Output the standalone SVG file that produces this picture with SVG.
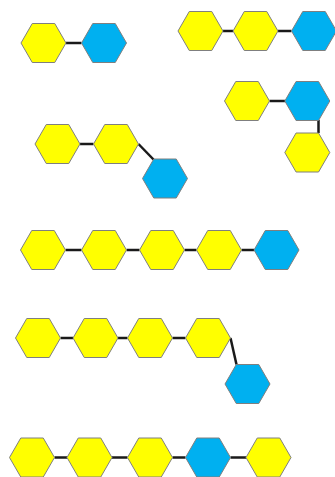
<svg xmlns="http://www.w3.org/2000/svg" xmlns:xlink="http://www.w3.org/1999/xlink" width="335" height="477" viewBox="0 0 335 477">
<style>
.y{fill:#FFFF00}
.b{fill:#00B0F0}
.hx{stroke:#7f7f7f;stroke-width:1}
.c line{stroke:#1a1a1a;stroke-width:2.5}
</style>
<defs>
<polygon id="hex" class="hx" points="-22.5,0 -11.25,-19.5 11.25,-19.5 22.5,0 11.25,19.5 -11.25,19.5"/>
</defs>
<rect width="335" height="477" fill="#fff"/>
<g id="connectors" class="c">
<line x1="66" y1="43" x2="81.5" y2="43"/>
<line x1="223" y1="31" x2="233" y2="31"/>
<line x1="278" y1="31" x2="291.5" y2="31"/>
<line x1="269.5" y1="101" x2="285" y2="101"/>
<line x1="318.5" y1="120" x2="318.5" y2="133"/>
<line x1="80" y1="144" x2="93.5" y2="144"/>
<line x1="138.5" y1="144" x2="153.5" y2="159.5"/>
<line x1="65.5" y1="250" x2="81.5" y2="250"/>
<line x1="126.5" y1="250" x2="139.5" y2="250"/>
<line x1="184.5" y1="250" x2="196.5" y2="250"/>
<line x1="241.5" y1="250" x2="254" y2="250"/>
<line x1="60.5" y1="338" x2="73" y2="338"/>
<line x1="118" y1="338" x2="127.5" y2="338"/>
<line x1="172.5" y1="338" x2="185.5" y2="338"/>
<line x1="230.5" y1="338" x2="236.5" y2="364.5"/>
<line x1="54.5" y1="457.5" x2="67" y2="457.5"/>
<line x1="112" y1="457.5" x2="127.5" y2="457.5"/>
<line x1="172.5" y1="457.5" x2="185.5" y2="457.5"/>
<line x1="230.5" y1="457.5" x2="246" y2="457.5"/>
</g>
<g id="n1"><use xlink:href="#hex" class="y" x="43.5" y="43"/></g>
<g id="n2"><use xlink:href="#hex" class="b" x="104" y="43"/></g>
<g id="n3"><use xlink:href="#hex" class="y" x="200.5" y="31"/></g>
<g id="n4"><use xlink:href="#hex" class="y" x="255.5" y="31"/></g>
<g id="n5"><use xlink:href="#hex" class="b" x="314" y="31"/></g>
<g id="n6"><use xlink:href="#hex" class="y" x="247" y="101"/></g>
<g id="n7"><use xlink:href="#hex" class="b" x="307.3" y="101"/></g>
<g id="n8"><use xlink:href="#hex" class="y" x="307.3" y="152.5"/></g>
<g id="n9"><use xlink:href="#hex" class="y" x="57.5" y="144"/></g>
<g id="n10"><use xlink:href="#hex" class="y" x="116" y="144"/></g>
<g id="n11"><use xlink:href="#hex" class="b" x="165" y="178.5"/></g>
<g id="n12"><use xlink:href="#hex" class="y" x="43" y="250"/></g>
<g id="n13"><use xlink:href="#hex" class="y" x="104" y="250"/></g>
<g id="n14"><use xlink:href="#hex" class="y" x="162" y="250"/></g>
<g id="n15"><use xlink:href="#hex" class="y" x="219" y="250"/></g>
<g id="n16"><use xlink:href="#hex" class="b" x="276.5" y="250"/></g>
<g id="n17"><use xlink:href="#hex" class="y" x="38" y="338"/></g>
<g id="n18"><use xlink:href="#hex" class="y" x="95.5" y="338"/></g>
<g id="n19"><use xlink:href="#hex" class="y" x="150" y="338"/></g>
<g id="n20"><use xlink:href="#hex" class="y" x="208" y="338"/></g>
<g id="n21"><use xlink:href="#hex" class="b" x="247.5" y="384"/></g>
<g id="n22"><use xlink:href="#hex" class="y" x="32" y="457.5"/></g>
<g id="n23"><use xlink:href="#hex" class="y" x="89.5" y="457.5"/></g>
<g id="n24"><use xlink:href="#hex" class="y" x="150" y="457.5"/></g>
<g id="n25"><use xlink:href="#hex" class="b" x="208" y="457.5"/></g>
<g id="n26"><use xlink:href="#hex" class="y" x="268.5" y="457.5"/></g>
</svg>
